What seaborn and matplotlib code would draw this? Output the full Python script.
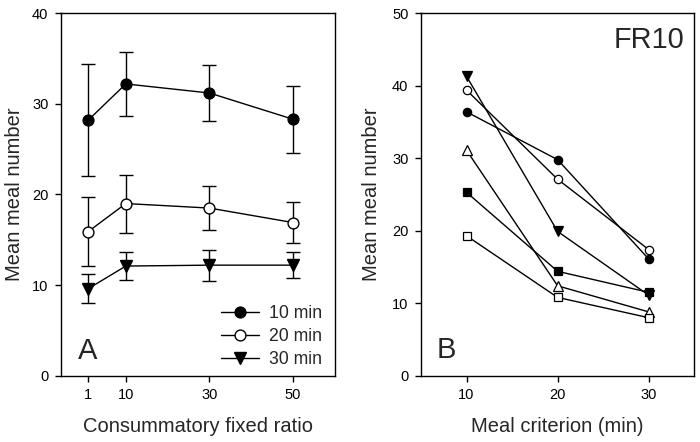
import matplotlib
matplotlib.use("Agg")
import matplotlib.pyplot as plt
import seaborn as sns
import pandas as pd
import numpy as np

sns.set_style("ticks")
plt.rcParams['font.family'] = ['Liberation Sans', 'DejaVu Sans']

# Panel A data
fr_ratio = [1, 10, 30, 50]
a_labels = ["10 min", "20 min", "30 min"]
a_mean_10 = [28.2, 32.2, 31.2, 28.3]
a_err_10 = [6.2, 3.5, 3.1, 3.7]
a_mean_20 = [15.9, 19.0, 18.5, 16.9]
a_err_20 = [3.8, 3.2, 2.4, 2.3]
a_mean_30 = [9.6, 12.1, 12.2, 12.2]
a_err_30 = [1.6, 1.55, 1.7, 1.4]

# Panel B data
criterion = [10, 20, 30]
b_filled_circle = [36.4, 29.8, 16.1]
b_open_circle = [39.4, 27.1, 17.4]
b_filled_tri_down = [41.3, 19.9, 11.1]
b_open_tri_up = [31.1, 12.4, 8.8]
b_filled_square = [25.3, 14.4, 11.5]
b_open_square = [19.3, 10.8, 8.0]

fig = plt.figure(figsize=(7.0, 4.42), dpi=100)
axA = fig.add_axes([0.0871, 0.150, 0.3914, 0.820])
axB = fig.add_axes([0.6014, 0.150, 0.3904, 0.820])

# Panel A
a_series = [
    (a_labels[0], a_mean_10, a_err_10, "o", "black", 7.8),
    (a_labels[1], a_mean_20, a_err_20, "o", "white", 7.8),
    (a_labels[2], a_mean_30, a_err_30, "v", "black", 8.2),
]
for lab, m, e, mk, fc, ms in a_series:
    axA.errorbar(fr_ratio, m, yerr=e, fmt="none", ecolor="black",
                 elinewidth=1.0, capsize=5, capthick=1.0, zorder=2)
    df = pd.DataFrame({"x": fr_ratio, "y": m})
    sns.lineplot(data=df, x="x", y="y", ax=axA, color="black", linewidth=1.0,
                 marker=mk, markersize=ms, markerfacecolor=fc,
                 markeredgecolor="black", markeredgewidth=1.0, label=lab, zorder=3)

axA.set_xlim(-5.5, 60)
axA.set_ylim(0, 40)
axA.set_xticks(fr_ratio)
axA.set_yticks([0, 10, 20, 30, 40])
axA.set_xlabel("Consummatory fixed ratio", fontsize=14.5, labelpad=11)
axA.set_ylabel("Mean meal number", fontsize=14.5, labelpad=6)
leg = axA.legend(loc="lower right", frameon=False, fontsize=12.7,
                 handlelength=2.16, handletextpad=0.55, borderpad=0,
                 borderaxespad=0, labelspacing=0.35,
                 bbox_to_anchor=(0.952, 0.020))
axA.text(0.062, 0.046, "A", transform=axA.transAxes, fontsize=21,
         ha="left", va="baseline")

# Panel B
b_series = [
    (b_filled_circle, "o", "black", 6.0),
    (b_open_circle, "o", "white", 6.0),
    (b_filled_tri_down, "v", "black", 6.8),
    (b_open_tri_up, "^", "white", 6.8),
    (b_filled_square, "s", "black", 6.2),
    (b_open_square, "s", "white", 6.2),
]
for vals, mk, fc, ms in b_series:
    df = pd.DataFrame({"x": criterion, "y": vals})
    sns.lineplot(data=df, x="x", y="y", ax=axB, color="black", linewidth=1.0,
                 marker=mk, markersize=ms, markerfacecolor=fc,
                 markeredgecolor="black", markeredgewidth=0.9)

axB.set_xlim(5, 35)
axB.set_ylim(0, 50)
axB.set_xticks(criterion)
axB.set_yticks([0, 10, 20, 30, 40, 50])
axB.set_xlabel("Meal criterion (min)", fontsize=14.5, labelpad=11)
axB.set_ylabel("Mean meal number", fontsize=14.5, labelpad=8)
axB.text(0.965, 0.905, "FR10", transform=axB.transAxes, fontsize=20.8,
         ha="right", va="baseline")
axB.text(0.059, 0.049, "B", transform=axB.transAxes, fontsize=21,
         ha="left", va="baseline")

for ax in (axA, axB):
    for sp in ax.spines.values():
        sp.set_visible(True)
        sp.set_linewidth(1.0)
        sp.set_color("black")
    ax.tick_params(direction="out", length=4, width=1.0, labelsize=10.5,
                   colors="black", pad=5)

fig.savefig("out.png", dpi=100)
